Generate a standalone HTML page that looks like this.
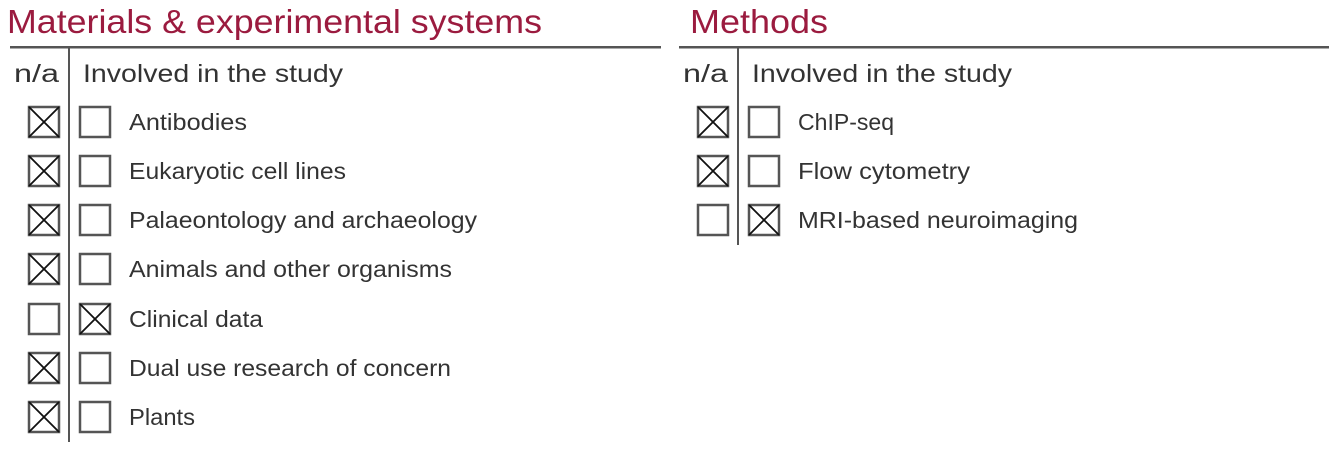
<!DOCTYPE html>
<html><head><meta charset="utf-8"><style>
html,body{margin:0;padding:0;background:#fff;width:1335px;height:454px;overflow:hidden}
svg text{font-family:"Liberation Sans",sans-serif;fill:#333}
</style></head><body>
<svg width="1335" height="454" viewBox="0 0 1335 454" xmlns="http://www.w3.org/2000/svg">
<text x="7" y="33" font-size="33" style="fill:#9b1b3f" textLength="535" lengthAdjust="spacingAndGlyphs">Materials &amp; experimental systems</text>
<text x="690" y="33" font-size="33" style="fill:#9b1b3f" textLength="138" lengthAdjust="spacingAndGlyphs">Methods</text>
<rect x="10" y="46" width="651" height="2.5" fill="#555"/>
<rect x="679" y="46" width="650" height="2.5" fill="#555"/>
<rect x="68" y="48" width="2" height="394" fill="#555"/>
<rect x="737" y="48" width="2" height="197" fill="#555"/>
<text x="14" y="82" font-size="25" textLength="45" lengthAdjust="spacingAndGlyphs">n/a</text>
<text x="83" y="82" font-size="25" textLength="260" lengthAdjust="spacingAndGlyphs">Involved in the study</text>
<text x="683" y="82" font-size="25" textLength="45" lengthAdjust="spacingAndGlyphs">n/a</text>
<text x="752" y="82" font-size="25" textLength="260" lengthAdjust="spacingAndGlyphs">Involved in the study</text>
<g fill="none" stroke="#555" stroke-width="2.5">
<rect x="29" y="107" width="30" height="30"/><rect x="80" y="107" width="30" height="30"/>
<rect x="29" y="156" width="30" height="30"/><rect x="80" y="156" width="30" height="30"/>
<rect x="29" y="205" width="30" height="30"/><rect x="80" y="205" width="30" height="30"/>
<rect x="29" y="254" width="30" height="30"/><rect x="80" y="254" width="30" height="30"/>
<rect x="29" y="304" width="30" height="30"/><rect x="80" y="304" width="30" height="30"/>
<rect x="29" y="353" width="30" height="30"/><rect x="80" y="353" width="30" height="30"/>
<rect x="29" y="402" width="30" height="30"/><rect x="80" y="402" width="30" height="30"/>
<rect x="698" y="107" width="30" height="30"/><rect x="749" y="107" width="30" height="30"/>
<rect x="698" y="156" width="30" height="30"/><rect x="749" y="156" width="30" height="30"/>
<rect x="698" y="205" width="30" height="30"/><rect x="749" y="205" width="30" height="30"/>
</g>
<g stroke="#111" stroke-width="1.8">
<path d="M29 107L59 137M59 107L29 137"/>
<path d="M29 156L59 186M59 156L29 186"/>
<path d="M29 205L59 235M59 205L29 235"/>
<path d="M29 254L59 284M59 254L29 284"/>
<path d="M80 304L110 334M110 304L80 334"/>
<path d="M29 353L59 383M59 353L29 383"/>
<path d="M29 402L59 432M59 402L29 432"/>
<path d="M698 107L728 137M728 107L698 137"/>
<path d="M698 156L728 186M728 156L698 186"/>
<path d="M749 205L779 235M779 205L749 235"/>
</g>
<g font-size="23">
<text x="129" y="130" textLength="118" lengthAdjust="spacingAndGlyphs">Antibodies</text>
<text x="129" y="179" textLength="217" lengthAdjust="spacingAndGlyphs">Eukaryotic cell lines</text>
<text x="129" y="228" textLength="348" lengthAdjust="spacingAndGlyphs">Palaeontology and archaeology</text>
<text x="129" y="277" textLength="323" lengthAdjust="spacingAndGlyphs">Animals and other organisms</text>
<text x="129" y="327" textLength="134" lengthAdjust="spacingAndGlyphs">Clinical data</text>
<text x="129" y="376" textLength="322" lengthAdjust="spacingAndGlyphs">Dual use research of concern</text>
<text x="129" y="425" textLength="66" lengthAdjust="spacingAndGlyphs">Plants</text>
<text x="798" y="130" textLength="96" lengthAdjust="spacingAndGlyphs">ChIP-seq</text>
<text x="798" y="179" textLength="172" lengthAdjust="spacingAndGlyphs">Flow cytometry</text>
<text x="798" y="228" textLength="280" lengthAdjust="spacingAndGlyphs">MRI-based neuroimaging</text>
</g>
</svg>
</body></html>
